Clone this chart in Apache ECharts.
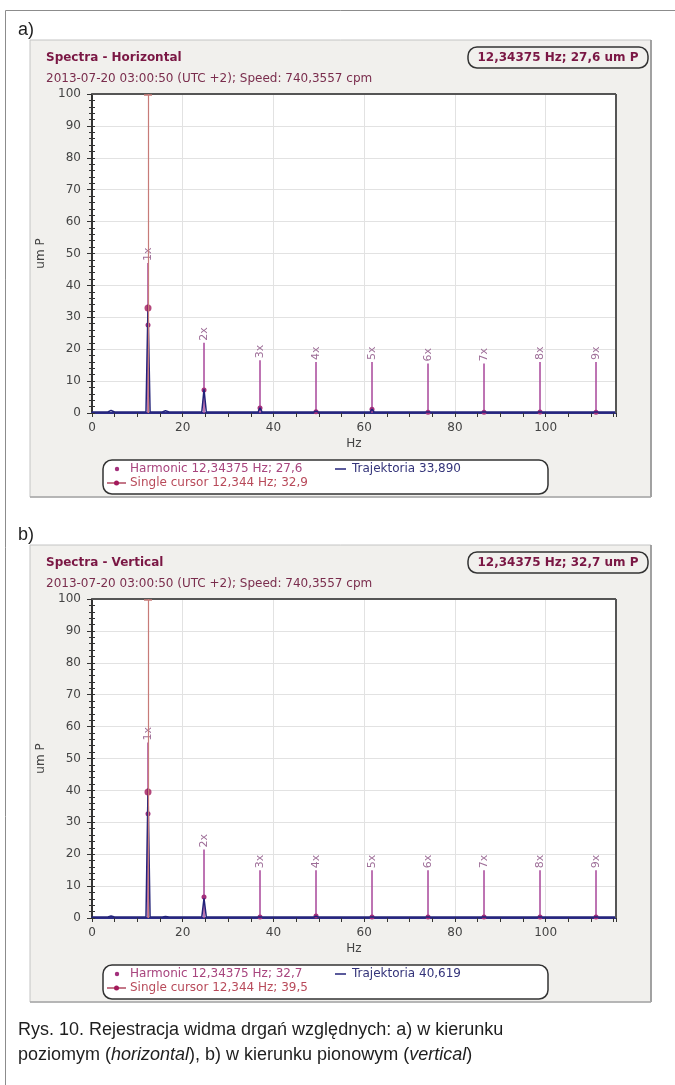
<!DOCTYPE html>
<html>
<head>
<meta charset="utf-8">
<script src="https://cdn.jsdelivr.net/npm/echarts@6/dist/echarts.min.js"></script>
<style>
  html, body { margin: 0; padding: 0; background: #fff; }
  #chart { width: 675px; height: 1085px; }
</style>
</head>
<body>
<div id="chart"></div>
<script>
// harmonics of running speed (740,3557 cpm -> 12,34375 Hz)
const harmonicLabels = ['1x', '2x', '3x', '4x', '5x', '6x', '7x', '8x', '9x']
const harmonicFreq = [12.344, 24.688, 37.031, 49.375, 61.719, 74.063, 86.406, 98.75, 111.094]

// a) horizontal
const harmonicAmpH = [27.6, 7.2, 1.6, 0.4, 1.2, 0.2, 0.2, 0.3, 0.2]
const harmonicTagH = [47, 22, 16.5, 16, 16, 15.5, 15.5, 16, 16]
// b) vertical
const harmonicAmpV = [32.7, 6.6, 0.3, 0.6, 0.3, 0.3, 0.3, 0.3, 0.3]
const harmonicTagV = [55, 21.5, 15, 15, 15, 15, 15, 15, 15]

// spectrum (Trajektoria)
const trajFreq = [0, 3.5, 4.2, 5, 11.9, 12.344, 12.8, 15.5, 16.2, 17, 24.2, 24.688, 25.2, 36.6, 37.031, 37.5, 48.9, 49.375, 49.9, 61.3, 61.719, 62.2, 67, 115.5]
const trajAmpH = [0.3, 0.3, 0.8, 0.3, 0.4, 33.9, 0.4, 0.3, 0.7, 0.3, 0.3, 7.4, 0.3, 0.3, 1.6, 0.3, 0.3, 0.6, 0.3, 0.3, 1.2, 0.3, 0.3, 0.3]
const trajAmpV = [0.3, 0.3, 0.6, 0.3, 0.4, 40.6, 0.4, 0.3, 0.5, 0.3, 0.3, 6.2, 0.3, 0.3, 0.4, 0.3, 0.3, 0.6, 0.3, 0.3, 0.4, 0.3, 0.3, 0.3]

// single cursor
const cursorFreq = 12.344
const cursorAmpH = 32.9
const cursorAmpV = 39.5

const yTicks = [0, 100, 10]
const xTicks = [0, 115.5, 20]

const panels = [
  {
    tag: 'a)', title: 'Spectra - Horizontal', box: '12,34375 Hz; 27,6 um P',
    amp: harmonicAmpH, mark: harmonicTagH, traj: trajAmpH, cursor: cursorAmpH,
    harm: 'Harmonic 12,34375 Hz; 27,6', trajText: 'Trajektoria 33,890', cur: 'Single cursor 12,344 Hz; 32,9'
  },
  {
    tag: 'b)', title: 'Spectra - Vertical', box: '12,34375 Hz; 32,7 um P',
    amp: harmonicAmpV, mark: harmonicTagV, traj: trajAmpV, cursor: cursorAmpV,
    harm: 'Harmonic 12,34375 Hz; 32,7', trajText: 'Trajektoria 40,619', cur: 'Single cursor 12,344 Hz; 39,5'
  }
]

const subTitle = '2013-07-20 03:00:50 (UTC +2); Speed: 740,3557 cpm'
const FONT = 'DejaVu Sans'
const STEP = 505

const chart = echarts.init(document.getElementById('chart'), null, { renderer: 'canvas' })

const grids = []
const xAxes = []
const yAxes = []
const series = []
const graphics = [
  // outer frame
  { type: 'line', z: -20, shape: { x1: 5.5, y1: 10.5, x2: 5.5, y2: 1085 }, style: { stroke: '#8c8c8c', lineWidth: 1 } },
  { type: 'line', z: -20, shape: { x1: 5.5, y1: 10.5, x2: 675, y2: 10.5 }, style: { stroke: '#8c8c8c', lineWidth: 1 } },
  {
    type: 'text', z: 10,
    style: {
      text: 'Rys. 10. Rejestracja widma drgań względnych: a) w kierunku',
      x: 18, y: 1030, textVerticalAlign: 'middle', fill: '#1e1e1e',
      fontSize: 18, fontFamily: 'Liberation Sans'
    }
  },
  {
    type: 'text', z: 10,
    style: {
      text: 'poziomym ({i|horizontal}), b) w kierunku pionowym ({i|vertical})',
      x: 18, y: 1055, textVerticalAlign: 'middle', fill: '#1e1e1e',
      fontSize: 18, fontFamily: 'Liberation Sans',
      rich: { i: { fontStyle: 'italic', fontSize: 18, fontFamily: 'Liberation Sans', fill: '#1e1e1e' } }
    }
  }
]

panels.forEach((p, k) => {
  const dy = k * STEP
  const gTop = 94 + dy

  grids.push({ left: 92, top: gTop, width: 524, height: 319, show: false })

  xAxes.push({
    gridIndex: k, type: 'value', min: xTicks[0], max: xTicks[1], interval: xTicks[2],
    name: 'Hz', nameLocation: 'middle', nameGap: 25,
    nameTextStyle: { color: '#444', fontSize: 12, fontFamily: FONT },
    axisLine: { lineStyle: { color: '#2c2c86', width: 2 } },
    axisTick: { length: 4, lineStyle: { color: '#333' } },
    minorTick: { show: true, splitNumber: 4, length: 4, lineStyle: { color: '#333' } },
    axisLabel: { color: '#444', fontSize: 12, fontFamily: FONT, margin: 9, showMaxLabel: false },
    splitLine: { show: true, lineStyle: { color: '#e2e2e2' } }
  })

  yAxes.push({
    gridIndex: k, type: 'value', min: yTicks[0], max: yTicks[1], interval: yTicks[2],
    name: 'um P', nameLocation: 'middle', nameGap: 45,
    nameTextStyle: { color: '#444', fontSize: 12, fontFamily: FONT },
    axisLine: { show: true, lineStyle: { color: '#333', width: 2 } },
    axisTick: { show: true, length: 5, lineStyle: { color: '#333' } },
    minorTick: { show: true, splitNumber: 5, length: 3, lineStyle: { color: '#333' } },
    axisLabel: { color: '#444', fontSize: 12, fontFamily: FONT, margin: 11 },
    splitLine: { show: true, lineStyle: { color: '#e2e2e2' } }
  })
  // inner half of the ruler ticks on the left axis
  yAxes.push({
    gridIndex: k, type: 'value', position: 'left', offset: 0,
    min: yTicks[0], max: yTicks[1], interval: yTicks[2],
    axisLine: { show: false },
    axisTick: { show: true, inside: true, length: 3, lineStyle: { color: '#333' } },
    minorTick: { show: true, splitNumber: 5, length: 3, lineStyle: { color: '#333' } },
    axisLabel: { show: false },
    splitLine: { show: false }
  })
  const yi = k * 2

  // cursor line
  series.push({
    type: 'line', xAxisIndex: k, yAxisIndex: yi, z: 1,
    data: [[cursorFreq, p.cursor]], showSymbol: false, lineStyle: { opacity: 0 },
    markLine: {
      silent: true, symbol: ['none', 'none'], label: { show: false },
      lineStyle: { color: '#c77b78', width: 1.2, type: 'solid' },
      data: [{ xAxis: cursorFreq }]
    }
  })

  // harmonic markers
  series.push({
    type: 'custom', xAxisIndex: k, yAxisIndex: yi, z: 2,
    data: harmonicFreq.map((f, i) => [f, p.amp[i], p.mark[i]]),
    renderItem: (params, api) => {
      const f = api.value(0)
      const base = api.coord([f, 0])
      const top = api.coord([f, api.value(2)])
      const dot = api.coord([f, api.value(1)])
      return {
        type: 'group',
        children: [
          { type: 'line', shape: { x1: base[0], y1: base[1], x2: top[0], y2: top[1] }, style: { stroke: '#a8469a', lineWidth: 1.5 } },
          {
            type: 'text', x: top[0], y: top[1] - 2, rotation: Math.PI / 2,
            style: { text: harmonicLabels[params.dataIndex], x: 0, y: 0, textAlign: 'left', textVerticalAlign: 'middle', font: '11px "DejaVu Sans"', fill: '#9e6e98' }
          },
          { type: 'circle', shape: { cx: dot[0], cy: dot[1], r: 2.5 }, style: { fill: '#a3307c' } }
        ]
      }
    }
  })

  // spectrum
  series.push({
    type: 'line', xAxisIndex: k, yAxisIndex: yi, z: 3,
    data: trajFreq.map((f, i) => [f, p.traj[i]]),
    showSymbol: false, lineStyle: { color: '#23237a', width: 1.5 }
  })

  // cursor point
  series.push({
    type: 'scatter', xAxisIndex: k, yAxisIndex: yi, z: 4,
    data: [[cursorFreq, p.cursor]], symbolSize: 7, itemStyle: { color: '#a3195b' }
  })

  graphics.push(
    { type: 'text', z: 10, style: { text: p.tag, x: 18, y: 30 + dy, textVerticalAlign: 'middle', fill: '#1e1e1e', fontSize: 18, fontFamily: 'Liberation Sans' } },
    { type: 'rect', z: -10, shape: { x: 30, y: 40 + dy, width: 621, height: 457 }, style: { fill: '#f1f0ed', stroke: '#c4c4c4', lineWidth: 1 } },
    { type: 'line', z: -9, shape: { x1: 651, y1: 40 + dy, x2: 651, y2: 497 + dy }, style: { stroke: '#8e8e8e', lineWidth: 1.5 } },
    { type: 'line', z: -9, shape: { x1: 30, y1: 497 + dy, x2: 651, y2: 497 + dy }, style: { stroke: '#a8a8a8', lineWidth: 1.5 } },
    { type: 'rect', z: -8, shape: { x: 92, y: gTop, width: 524, height: 319 }, style: { fill: '#ffffff' } },
    { type: 'line', z: 5, shape: { x1: 92, y1: gTop, x2: 616, y2: gTop }, style: { stroke: '#555', lineWidth: 2 } },
    { type: 'line', z: 5, shape: { x1: 616, y1: gTop, x2: 616, y2: gTop + 319 }, style: { stroke: '#555', lineWidth: 2 } },
    // cursor cap at the top of the plot
    { type: 'line', z: 6, shape: { x1: 144, y1: gTop + 1, x2: 152, y2: gTop + 1 }, style: { stroke: '#c77b78', lineWidth: 1.5 } },
    { type: 'text', z: 10, style: { text: p.title, x: 46, y: 58 + dy, textVerticalAlign: 'middle', fill: '#7a1744', font: 'bold 12px "DejaVu Sans"' } },
    { type: 'text', z: 10, style: { text: subTitle, x: 46, y: 79 + dy, textVerticalAlign: 'middle', fill: '#7a2d4d', font: '12px "DejaVu Sans"' } },
    { type: 'rect', z: 10, shape: { x: 468, y: 47 + dy, width: 180, height: 21, r: 9 }, style: { fill: 'none', stroke: '#333', lineWidth: 1.5 } },
    { type: 'text', z: 10, style: { text: p.box, x: 558, y: 58 + dy, textAlign: 'center', textVerticalAlign: 'middle', fill: '#7a1744', font: 'bold 12px "DejaVu Sans"' } },
    // legend box
    { type: 'rect', z: 10, shape: { x: 103, y: 460 + dy, width: 445, height: 34, r: 9 }, style: { fill: '#ffffff', stroke: '#333', lineWidth: 1.5 } },
    { type: 'circle', z: 11, shape: { cx: 117, cy: 469 + dy, r: 2.2 }, style: { fill: '#a3307c' } },
    { type: 'text', z: 11, style: { text: p.harm, x: 130, y: 469 + dy, textVerticalAlign: 'middle', fill: '#a8457e', font: '12px "DejaVu Sans"' } },
    { type: 'line', z: 11, shape: { x1: 335, y1: 469 + dy, x2: 346, y2: 469 + dy }, style: { stroke: '#23237a', lineWidth: 1.5 } },
    { type: 'text', z: 11, style: { text: p.trajText, x: 352, y: 469 + dy, textVerticalAlign: 'middle', fill: '#34347a', font: '12px "DejaVu Sans"' } },
    { type: 'line', z: 11, shape: { x1: 107, y1: 483 + dy, x2: 126, y2: 483 + dy }, style: { stroke: '#b04a60', lineWidth: 1.5 } },
    { type: 'circle', z: 11, shape: { cx: 116.5, cy: 483 + dy, r: 2.5 }, style: { fill: '#a3195b' } },
    { type: 'text', z: 11, style: { text: p.cur, x: 130, y: 483 + dy, textVerticalAlign: 'middle', fill: '#b84a5a', font: '12px "DejaVu Sans"' } }
  )
})

chart.setOption({
  animation: false,
  grid: grids,
  xAxis: xAxes,
  yAxis: yAxes,
  series: series,
  graphic: { elements: graphics }
})
</script>
</body>
</html>
